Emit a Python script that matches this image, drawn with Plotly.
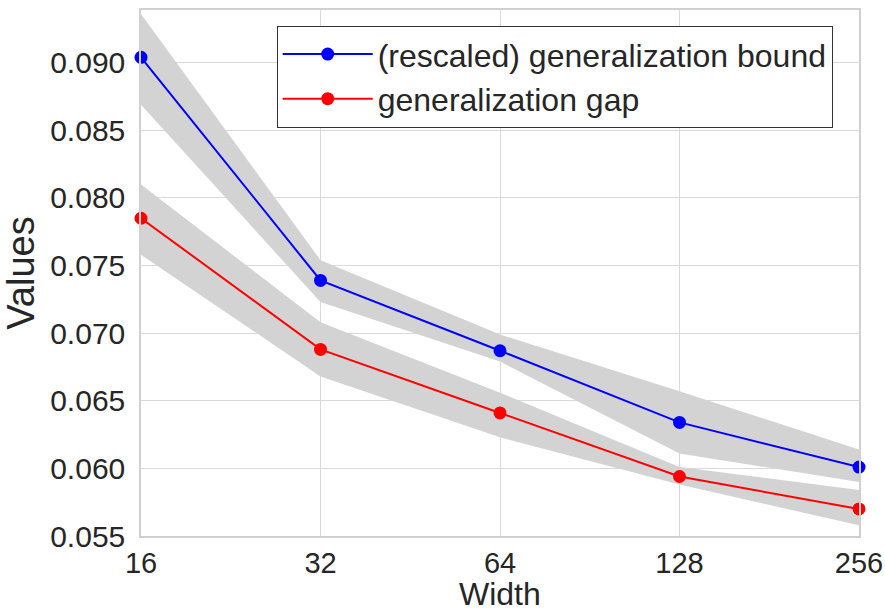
import plotly.graph_objects as go

# Network width vs. measured values
widths = [16, 32, 64, 128, 256]

bound_mean = [0.0904, 0.0739, 0.0687, 0.0634, 0.0601]
bound_upper = [0.0936, 0.0754, 0.0699, 0.0657, 0.0614]
bound_lower = [0.0869, 0.0723, 0.0679, 0.0611, 0.0590]

gap_mean = [0.0785, 0.0688, 0.0641, 0.0594, 0.0570]
gap_upper = [0.0810, 0.0708, 0.0656, 0.0601, 0.0584]
gap_lower = [0.0758, 0.0668, 0.0623, 0.0588, 0.0558]

y_ticks = [0.055, 0.060, 0.065, 0.070, 0.075, 0.080, 0.085, 0.090]

BAND = "#d3d3d3"
FONT = "Liberation Sans, Arial, sans-serif"

fig = go.Figure()

# shaded spread bands
for upper, lower in [(bound_upper, bound_lower), (gap_upper, gap_lower)]:
    fig.add_trace(go.Scatter(x=widths, y=upper, mode="lines", line=dict(width=0, color=BAND),
                             showlegend=False, hoverinfo="skip", cliponaxis=False))
    fig.add_trace(go.Scatter(x=widths, y=lower, mode="lines", line=dict(width=0, color=BAND),
                             fill="tonexty", fillcolor=BAND, showlegend=False,
                             hoverinfo="skip", cliponaxis=False))

fig.add_trace(go.Scatter(x=widths, y=bound_mean, mode="lines+markers",
                         name="(rescaled) generalization bound", legendgroup="bound",
                         line=dict(color="#0000ff", width=2),
                         marker=dict(color="#0000ff", size=13), cliponaxis=False))
fig.add_trace(go.Scatter(x=widths, y=gap_mean, mode="lines+markers",
                         name="generalization gap", legendgroup="gap",
                         line=dict(color="#ff0000", width=2),
                         marker=dict(color="#ff0000", size=13), cliponaxis=False))

fig.update_layout(
    width=885, height=613,
    margin=dict(l=141, r=26, t=10, b=77),
    paper_bgcolor="white", plot_bgcolor="white",
    font=dict(family=FONT, color="#262626"),
    legend=dict(
        x=0.189, y=0.97, xanchor="left", yanchor="top",
        bgcolor="white", bordercolor="#333333", borderwidth=1,
        font=dict(size=32, family=FONT, color="#262626"),
        itemwidth=90, traceorder="normal", tracegroupgap=5,
    ),
)

# x-axis title placed below the tick labels
fig.add_annotation(text="Width", xref="paper", yref="paper", x=0.5, y=-0.1464,
                   xanchor="center", yanchor="bottom", showarrow=False, borderpad=0,
                   font=dict(size=32, family=FONT, color="#262626"))

fig.update_xaxes(
    type="log", range=[1.2041, 2.40824],
    tickvals=widths, ticktext=[str(w) for w in widths],
    tickfont=dict(size=29, family=FONT),
    ticklabelstandoff=0, automargin=False,
    showgrid=True, gridcolor="#d9d9d9", gridwidth=1.2,
    showline=True, linecolor="#d0d0d0", linewidth=1.5, mirror=True,
    zeroline=False,
)
fig.update_yaxes(
    range=[0.055, 0.0939],
    tickvals=y_ticks, tickformat=".3f",
    tickfont=dict(size=30, family=FONT),
    ticklabelstandoff=8, automargin=False,
    showgrid=True, gridcolor="#d9d9d9", gridwidth=1.2,
    showline=True, linecolor="#d0d0d0", linewidth=1.5, mirror=True,
    zeroline=False,
    title=dict(text="Values", font=dict(size=38, family=FONT), standoff=8),
)

fig.write_html("out.html")
